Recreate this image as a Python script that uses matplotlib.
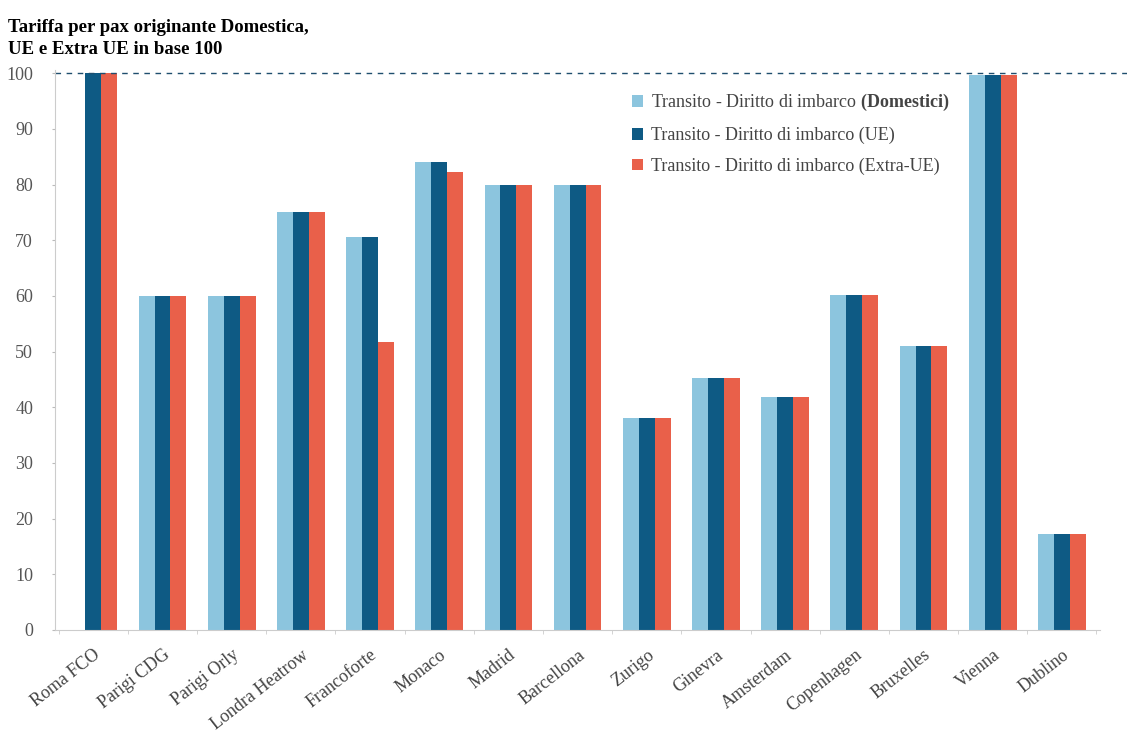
import numpy as np
import matplotlib

matplotlib.use("Agg")
import matplotlib.pyplot as plt

airports = ["Roma FCO", "Parigi CDG", "Parigi Orly", "Londra Heatrow", "Francoforte",
            "Monaco", "Madrid", "Barcellona", "Zurigo", "Ginevra", "Amsterdam",
            "Copenhagen", "Bruxelles", "Vienna", "Dublino"]
domestici = [0, 60, 60, 75, 70.5, 84, 80, 80, 38, 45.3, 41.8, 60.2, 51, 99.7, 17.2]
ue = [100, 60, 60, 75, 70.5, 84, 80, 80, 38, 45.3, 41.8, 60.2, 51, 99.7, 17.2]
extra_ue = [100, 60, 60, 75, 51.7, 82.3, 80, 80, 38, 45.3, 41.8, 60.2, 51, 99.7, 17.2]
series_labels = [r"Transito - Diritto di imbarco $\mathbf{(Domestici)}$",
                 "Transito - Diritto di imbarco (UE)",
                 "Transito - Diritto di imbarco (Extra-UE)"]
colors = ["#8cc5de", "#0e5a84", "#e9604a"]

plt.rcParams["font.family"] = ["Liberation Serif", "DejaVu Serif"]
plt.rcParams["mathtext.fontset"] = "custom"
plt.rcParams["mathtext.rm"] = "Liberation Serif"
plt.rcParams["mathtext.bf"] = "Liberation Serif:bold"

fig = plt.figure(figsize=(11.27, 7.41), dpi=100)
ax = fig.add_axes([0.049, 0.150, 0.927, 0.755])

x = np.arange(len(airports))
w = 0.23
for i, (vals, col, lab) in enumerate(zip([domestici, ue, extra_ue], colors, series_labels)):
    ax.bar(x + (i - 1) * w, vals, width=w, color=col, label=lab)

# dashed reference line at 100, running past the last category
ax.plot([0, 1.03], [100, 100], transform=ax.get_yaxis_transform(), color="#1f4e6e",
        linestyle=(0, (4, 4)), linewidth=1.0, clip_on=False)

ax.set_xlim(-0.55, len(airports) - 0.45)
ax.set_ylim(0, 100.5)
ax.set_yticks(np.arange(0, 101, 10))
ax.tick_params(axis="y", labelsize=13, labelcolor="#555555", length=2, color="#bbbbbb", pad=14)
ax.set_xticks(x)
ax.set_xticklabels(airports, rotation=38, ha="right", rotation_mode="anchor",
                   fontsize=13, color="#444444")
ax.tick_params(axis="x", length=0, pad=12)
ax.set_xticks(np.arange(-0.5, len(airports), 1), minor=True)
ax.tick_params(axis="x", which="minor", length=3, color="#cccccc")

for s in ["top", "right"]:
    ax.spines[s].set_visible(False)
for s in ["left", "bottom"]:
    ax.spines[s].set_color("#cccccc")

leg = ax.legend(loc="upper left", bbox_to_anchor=(0.537, 0.99), frameon=False,
                fontsize=13, handlelength=0.6, handleheight=0.6, handletextpad=0.4,
                labelspacing=0.75)
for t in leg.get_texts():
    t.set_color("#444444")

fig.text(0.007, 0.975, "Tariffa per pax originante Domestica,\nUE e Extra UE in base 100",
         fontsize=13.5, fontweight="bold", va="top", ha="left", linespacing=1.45)

fig.savefig("out.png", dpi=100)
